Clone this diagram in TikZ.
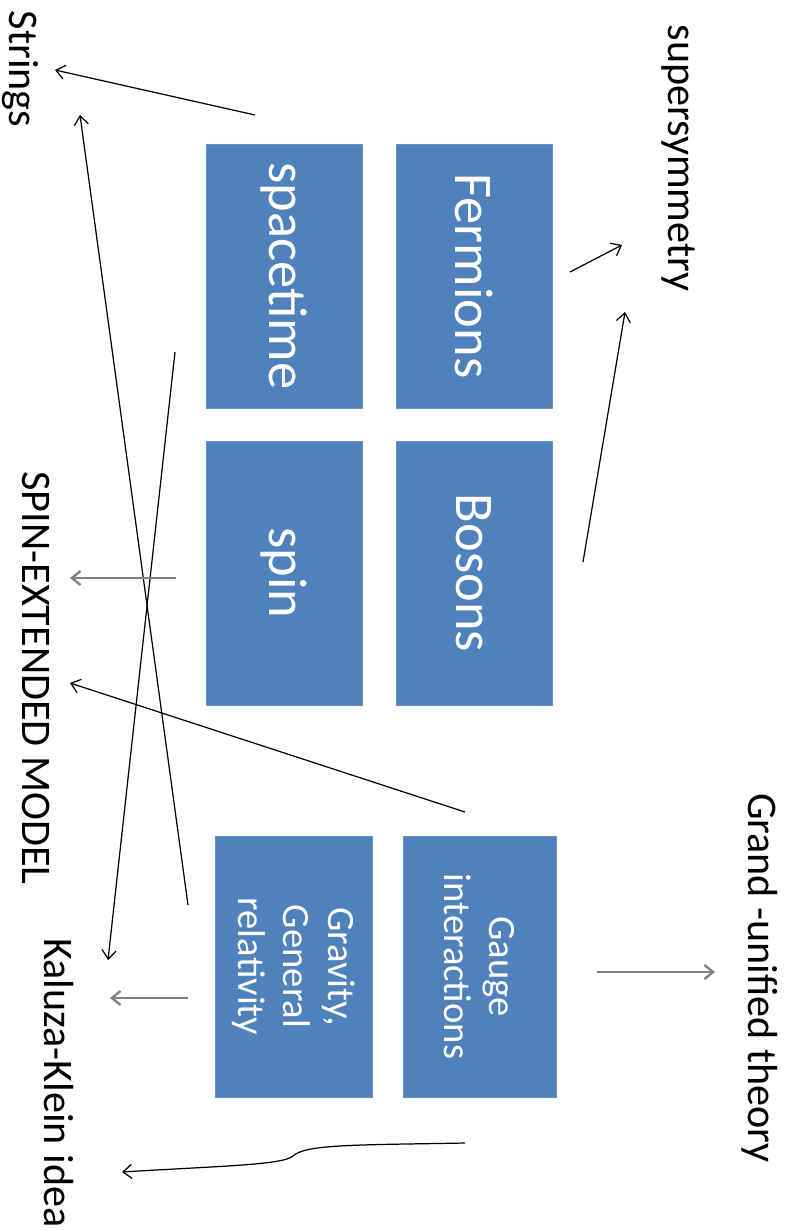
\documentclass[tikz,border=0pt]{standalone}
\usepackage{fontspec}
\setmainfont{Carlito}
\usepackage{tikz}
\usetikzlibrary{arrows.meta,calc,positioning}
\definecolor{boxc}{RGB}{79,129,189}
\definecolor{linec}{RGB}{128,128,128}

\begin{document}
\begin{tikzpicture}[x=0.02cm,y=-0.02cm,line join=round,
  blk/.style={fill=boxc,draw=boxc!85!white,line width=0.5pt,text=white,rotate=-90,align=center,inner sep=0pt},
  big/.style={blk,font=\fontsize{31}{37}\selectfont,minimum width=5.28cm,minimum height=3.12cm},
  small/.style={blk,font=\fontsize{22}{25.5}\selectfont,minimum width=5.22cm},
  lbl/.style={rotate=-90,font=\fontsize{24}{28}\selectfont,inner sep=1pt},
  arr/.style={-{Straight Barb[length=5pt,width=8pt]},line width=0.7pt},
  garr/.style={-{Straight Barb[length=5pt,width=8pt]},line width=1.3pt,linec}]
  \useasboundingbox (0,0) rectangle (789,1230);
  % boxes
  \node[big] (ferm) at (474,276) {Fermions};
  \node[big] (bos) at (474,573) {Bosons};
  \node[big] (spt) at (284,276) {spacetime};
  \node[big] (spin) at (284,573) {spin};
  \node[small,minimum height=3.06cm] (gauge) at (479.5,966.5) {Gauge\\interactions};
  \node[small,minimum height=3.14cm] (grav) at (293.5,966.5) {Gravity,\\General\\relativity};
  % labels
  \node[lbl] (susy) at (678,158) {supersymmetry};
  \node[lbl] (gut) at (760,978) {Grand -unified theory};
  \node[lbl] (str) at (20,69) {Strings};
  \node[lbl] (sem) at (36,678) {SPIN-EXTENDED MODEL};
  \node[lbl] (kk) at (59,1083) {Kaluza-Klein idea};
  % free ends
  \coordinate (a1) at (255,115); \coordinate (b1) at (55,70);
  \coordinate (a2) at (570,272); \coordinate (b2) at (622,245);
  \coordinate (a3) at (583,562); \coordinate (b3) at (625,312);
  \coordinate (a4) at (175,352); \coordinate (b4) at (108,960);
  \coordinate (a5) at (188,905); \coordinate (b5) at (80,115);
  \coordinate (a6) at (176,578); \coordinate (b6) at (70,578);
  \coordinate (a7) at (465,812); \coordinate (b7) at (70,683);
  \coordinate (a8) at (597,972); \coordinate (b8) at (715,972);
  \coordinate (a9) at (188,998); \coordinate (b9) at (110,998);
  \coordinate (a10) at (465,1143); \coordinate (b10) at (122,1172);
  % arrows
  \draw[arr] (a1) -- (b1);
  \draw[arr] (a2) -- (b2);
  \draw[arr] (a3) -- (b3);
  \draw[arr] (a4) -- (b4);
  \draw[arr] (a5) -- (b5);
  \draw[garr] (a6) -- (b6);
  \draw[arr] (a7) -- (b7);
  \draw[garr] (a8) -- (b8);
  \draw[garr] (a9) -- (b9);
  \draw[arr] (a10) .. controls (360,1145) and (305,1144) .. (293,1156) .. controls (283,1165) and (220,1166) .. (b10);
\end{tikzpicture}
\end{document}
